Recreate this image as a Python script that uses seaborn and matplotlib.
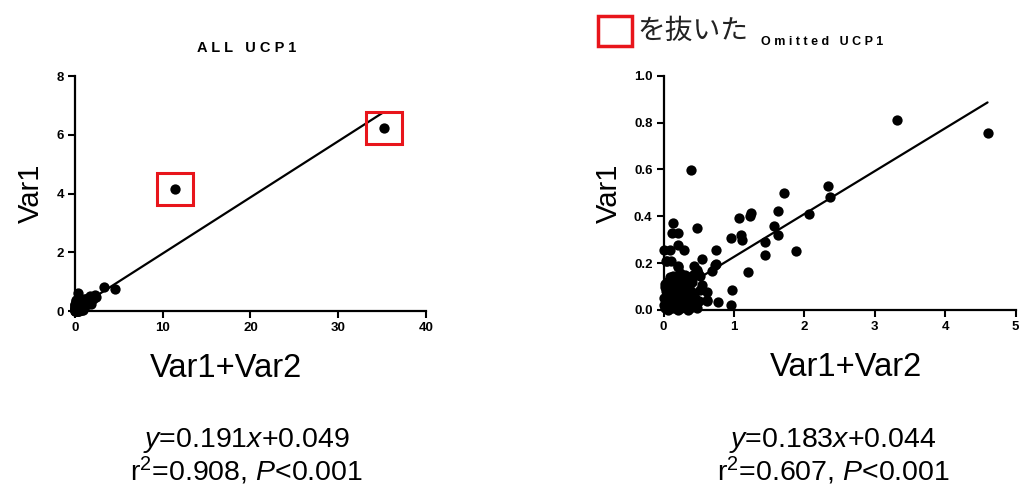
import numpy as np
import pandas as pd
import matplotlib
matplotlib.use("Agg")
import matplotlib.pyplot as plt
from matplotlib.patches import Rectangle
import seaborn as sns

# UCP1 data without the two outliers (Var1+Var2 , Var1)
x_omit = [0.39, 2.33, 2.36, 1.71, 2.07, 1.63, 1.235, 1.225, 1.07, 1.57, 1.62, 1.44, 1.44, 1.88,
          0.96, 1.10, 1.12, 1.20, 0.75, 0.74, 0.69, 0.54, 0.47, 0.14, 0.12, 0.21, 0.20, 0.285,
          0.01, 0.085, 0.04, 0.20, 0.43, 0.49, 0.97, 0.95, 0.77, 0.62, 0.51, 3.31, 4.60,
          0.05, 0.10, 0.21, 0.73, 0.52, 0.54, 0.35, 0.23, 0.14, 0.02, 0.61, 0.61,
          0.02, 0.04, 0.06, 0.08, 0.10, 0.12, 0.14, 0.16, 0.18, 0.20, 0.22, 0.24, 0.26, 0.28,
          0.30, 0.32, 0.34, 0.36, 0.38, 0.40, 0.42, 0.44, 0.03, 0.05, 0.07, 0.09, 0.11, 0.13,
          0.15, 0.17, 0.19, 0.21, 0.23, 0.25, 0.27, 0.29, 0.31, 0.33, 0.35, 0.37, 0.39, 0.41,
          0.45, 0.48, 0.50, 0.01, 0.02, 0.00, 0.05, 0.08, 0.12, 0.16, 0.26, 0.30, 0.34, 0.42, 0.47]
y_omit = [0.598, 0.53, 0.484, 0.498, 0.408, 0.422, 0.412, 0.40, 0.393, 0.36, 0.318, 0.289, 0.233, 0.25,
          0.308, 0.322, 0.30, 0.16, 0.257, 0.196, 0.167, 0.217, 0.348, 0.372, 0.33, 0.33, 0.276, 0.257,
          0.255, 0.255, 0.207, 0.183, 0.189, 0.157, 0.086, 0.021, 0.036, 0.043, 0.086, 0.812, 0.755,
          0.207, 0.207, 0.186, 0.193, 0.143, 0.107, 0.128, 0.157, 0.143, 0.10, 0.078, 0.04,
          0.01, 0.03, 0.00, 0.02, 0.05, 0.01, 0.03, 0.07, 0.02, 0.04, 0.09, 0.01, 0.06, 0.03,
          0.08, 0.02, 0.05, 0.11, 0.01, 0.04, 0.07, 0.02, 0.08, 0.12, 0.10, 0.14, 0.09, 0.06,
          0.12, 0.10, 0.13, 0.00, 0.06, 0.11, 0.02, 0.12, 0.05, 0.09, 0.00, 0.03, 0.08, 0.12,
          0.05, 0.01, 0.04, 0.05, 0.11, 0.02, 0.06, 0.08, 0.04, 0.01, 0.14, 0.15, 0.14, 0.15, 0.17]

# the two outliers (red boxes)
x_out = [11.4, 35.2]
y_out = [4.15, 6.22]

# regression results shown under each panel
fit_all = (0.191, 0.049, 0.908)
fit_omit = (0.183, 0.044, 0.607)

df_omit = pd.DataFrame({'x': x_omit, 'y': y_omit})
df_all = pd.concat([df_omit, pd.DataFrame({'x': x_out, 'y': y_out})], ignore_index=True)

sns.set_style('ticks')
plt.rcParams['font.family'] = ['Liberation Sans', 'DejaVu Sans']
plt.rcParams['mathtext.fontset'] = 'custom'
plt.rcParams['mathtext.rm'] = 'Liberation Sans'
plt.rcParams['mathtext.it'] = 'Liberation Sans:italic'
for k in ['text.color', 'axes.labelcolor', 'xtick.color', 'ytick.color', 'axes.edgecolor']:
    plt.rcParams[k] = 'black'

fig = plt.figure(figsize=(10.2, 4.94), dpi=100)
ax1 = fig.add_axes([0.0735, 0.3704, 0.344, 0.4757])
ax2 = fig.add_axes([0.6506, 0.3725, 0.3452, 0.4743])


def draw_panel(ax, df, fit, xmax, ymax, xstep, ystep, ylabfmt):
    slope, icpt, r2 = fit
    sns.scatterplot(x='x', y='y', data=df, ax=ax, color='black', s=55,
                    linewidth=0, clip_on=False, legend=False, zorder=3)
    xs = np.array([df['x'].min(), df['x'].max()])
    sns.lineplot(x=xs, y=slope * xs + icpt, ax=ax, color='black', lw=1.6)
    ax.set_xlim(0, xmax)
    ax.set_ylim(0, ymax)
    ax.set_xticks(np.arange(0, xmax + xstep / 2, xstep))
    ax.set_yticks(np.arange(0, ymax + ystep / 2, ystep))
    ax.set_yticklabels([ylabfmt.format(v) for v in ax.get_yticks()])
    for lab in ax.get_xticklabels() + ax.get_yticklabels():
        lab.set_fontweight('bold')
    ax.tick_params(labelsize=9.5, width=1.5, length=5, pad=3)
    for sp in ['left', 'bottom']:
        ax.spines[sp].set_linewidth(1.6)
    sns.despine(ax=ax)
    ax.set_ylabel('Var1', fontsize=21, labelpad=8)
    ax.set_xlabel('Var1+Var2', fontsize=23.5)


draw_panel(ax1, df_all, fit_all, 40, 8, 10, 2, '{:.0f}')
draw_panel(ax2, df_omit, fit_omit, 5, 1.0, 1, 0.2, '{:.1f}')
ax1.xaxis.set_label_coords(0.43, -0.18)
ax2.xaxis.set_label_coords(0.518, -0.18)

# red boxes round the outliers
for xo, yo in zip(x_out, y_out):
    ax1.add_patch(Rectangle((xo - 2.05, yo - 0.55), 4.1, 1.1, fill=False,
                            edgecolor='#e8151b', lw=2.2, clip_on=False, zorder=4))

ax1.text(0.49, 1.12, 'A L L   U C P 1', transform=ax1.transAxes, ha='center', va='center',
         fontsize=10.5, fontweight='bold')
ax2.text(0.45, 1.145, 'O m i t t e d   U C P 1', transform=ax2.transAxes, ha='center', va='center',
         fontsize=9, fontweight='bold')
fig.patches.append(Rectangle((598 / 1020, 1 - 46 / 494), 34 / 1020, 30 / 494, fill=False,
                             edgecolor='#e8151b', lw=2.5, transform=fig.transFigure))
fig.text(637 / 1020, 1 - 31 / 494, 'を抜いた', ha='left', va='center', fontsize=20,
         family=['Noto Sans CJK JP', 'DejaVu Sans'], color='#222222')

for cx, fit in [(246, fit_all), (833, fit_omit)]:
    slope, icpt, r2 = fit
    fig.text(cx / 1020, 1 - 440 / 494, r'$\mathit{y}$=' + f'{slope:.3f}' + r'$\mathit{x}$+' + f'{icpt:.3f}',
             ha='center', va='center', fontsize=20.5)
    fig.text(cx / 1020, 1 - 471 / 494, r'r$^{2}$=' + f'{r2:.3f}, ' + r'$\mathit{P}$<0.001',
             ha='center', va='center', fontsize=20.5)

fig.savefig('out.png', dpi=100)
